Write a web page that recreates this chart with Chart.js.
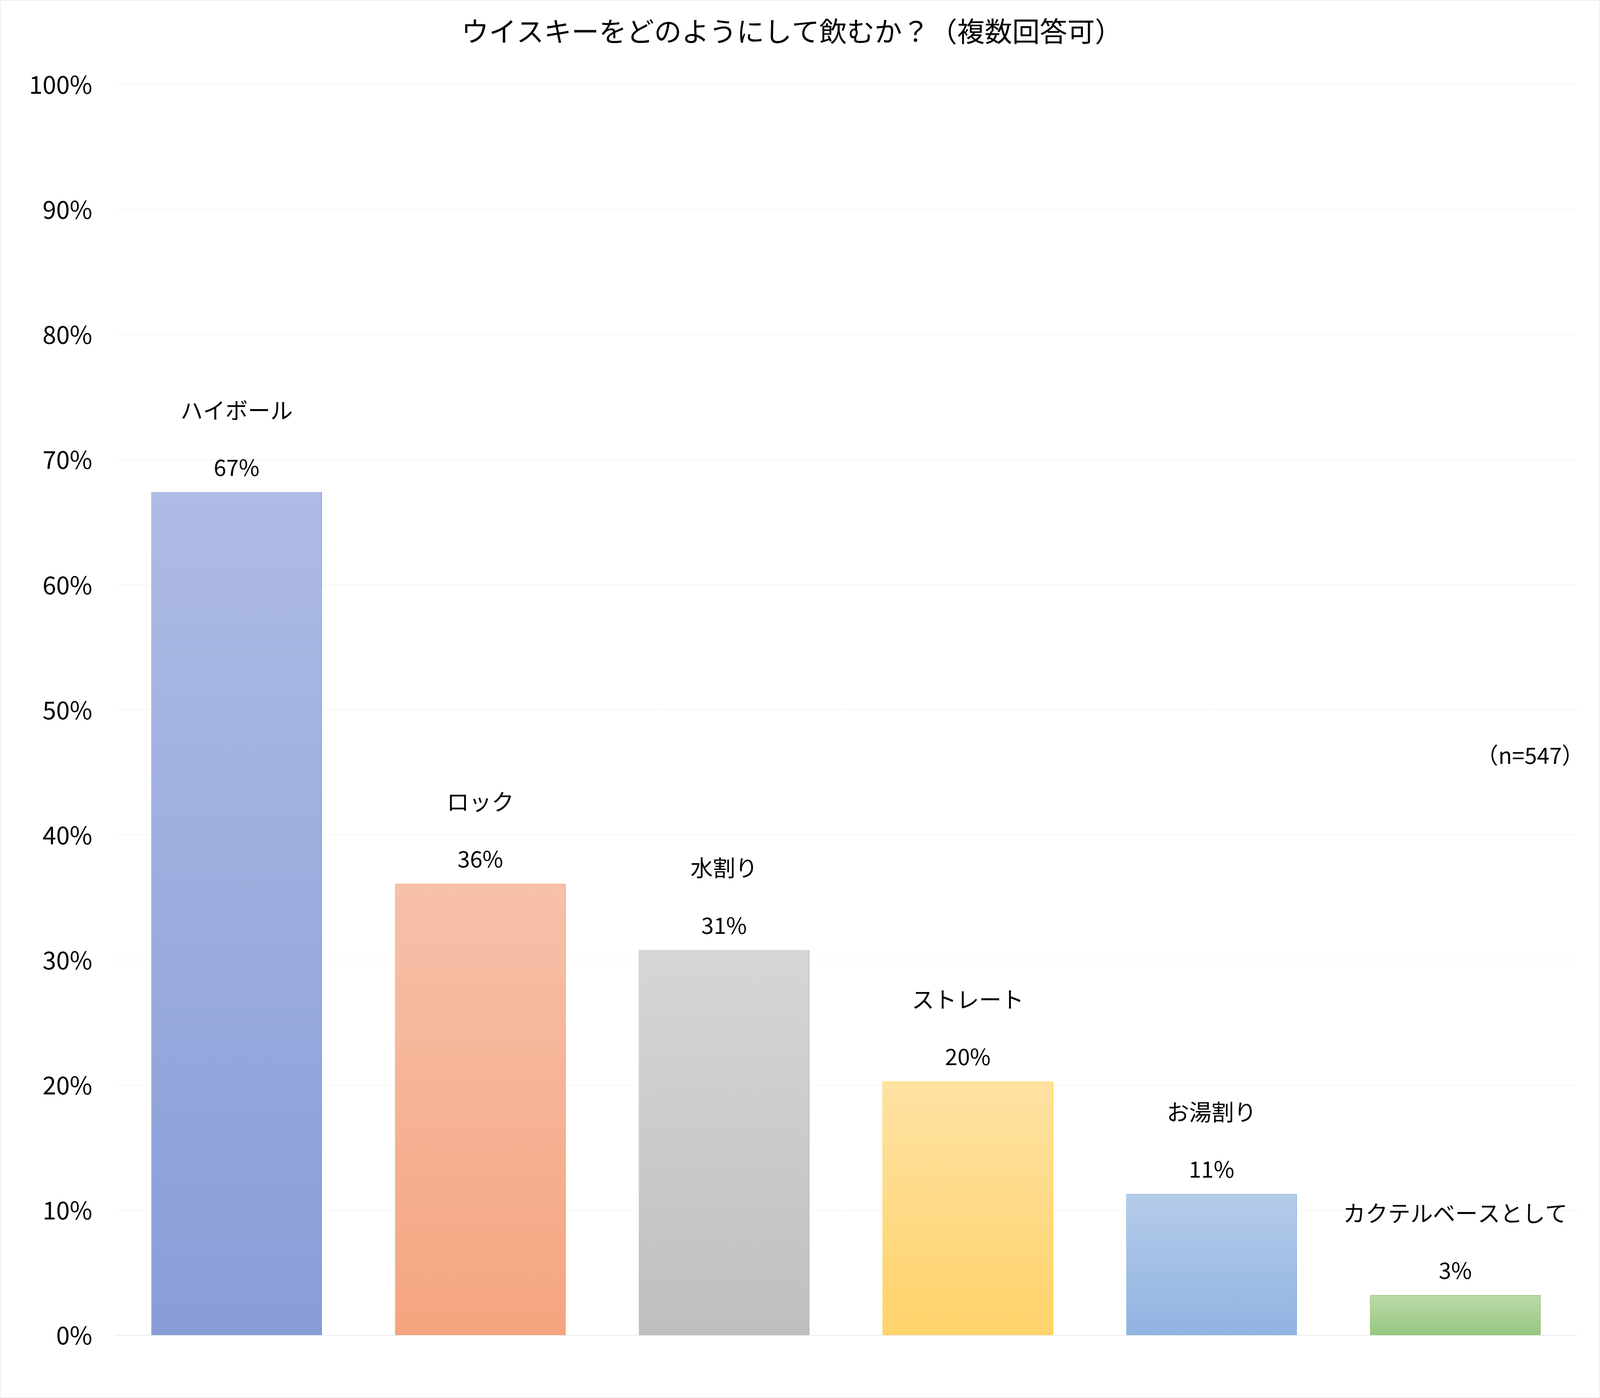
<!DOCTYPE html>
<html><head><meta charset="utf-8">
<script src="https://cdn.jsdelivr.net/npm/chart.js@4"></script>
<style>html,body{margin:0;padding:0;background:#fff;overflow:hidden}#wrap{width:100vw;height:100vh;box-sizing:border-box;border:1px solid #d9d9d9;position:relative}</style>
</head><body><div id="wrap"><canvas id="c"></canvas></div>
<script>
const categories=["ハイボール","ロック","水割り","ストレート","お湯割り","カクテルベースとして"];
const values=[67.4,36.1,30.8,20.3,11.3,3.2];
const valueLabels=["67%","36%","31%","20%","11%","3%"];
const topColors=["#aebbe4","#f7c0aa","#d6d6d6","#ffe1a3","#b5cbea","#bcdaa8"];
const bottomColors=["#889dd8","#f5a57f","#bfbfbf","#ffd36a","#91b3e1","#96c681"];
const borderColors=["#4472c4","#ed7d31","#a5a5a5","#ffc000","#5b9bd5","#70ad47"];
const FONT='"Noto Sans CJK JP","Noto Sans",sans-serif';
const s=window.innerWidth/1568;
const labelPlugin={id:'lbl',afterDatasetsDraw(chart){
  const ctx=chart.ctx;const meta=chart.getDatasetMeta(0);
  ctx.save();ctx.fillStyle='#000';ctx.textAlign='center';ctx.textBaseline='alphabetic';
  ctx.font=(22*s)+'px '+FONT;
  meta.data.forEach((b,i)=>{
    ctx.fillText(valueLabels[i],b.x,b.y-16*s);
    ctx.fillText(categories[i],b.x,b.y-72*s);
  });
  ctx.font=(22*s)+'px '+FONT;ctx.textAlign='right';
  ctx.fillText('（n=547）',chart.width-15*s,748*s);
  ctx.restore();
}};
new Chart(document.getElementById('c'),{
  type:'bar',
  data:{labels:categories,datasets:[{data:values,
    backgroundColor:(c)=>{const ch=c.chart,a=ch.chartArea;if(!a)return topColors[c.dataIndex];
      const y=ch.scales.y.getPixelForValue(values[c.dataIndex]);
      const g=ch.ctx.createLinearGradient(0,y,0,a.bottom);
      g.addColorStop(0,topColors[c.dataIndex]);g.addColorStop(1,bottomColors[c.dataIndex]);return g;},
    borderColor:borderColors,borderWidth:1,barPercentage:0.7,categoryPercentage:1}]},
  options:{responsive:true,maintainAspectRatio:false,animation:false,
    layout:{padding:{left:6*s,right:22*s,top:0,bottom:58*s}},
    plugins:{legend:{display:false},tooltip:{enabled:false},
      title:{display:true,text:'ウイスキーをどのようにして飲むか？（複数回答可）',color:'#000',
        font:{family:FONT,size:27*s,weight:'normal'},padding:{top:14*s,bottom:36*s}}},
    scales:{
      x:{ticks:{display:false},grid:{display:false},border:{color:'#d9d9d9',width:1}},
      y:{min:0,max:100,ticks:{stepSize:10,callback:v=>v+'%',color:'#000',font:{family:FONT,size:24*s},padding:22*s},
        grid:{color:'#efefef',lineWidth:1,drawTicks:false},border:{display:false}}
    }},
  plugins:[labelPlugin]
});
</script></body></html>
